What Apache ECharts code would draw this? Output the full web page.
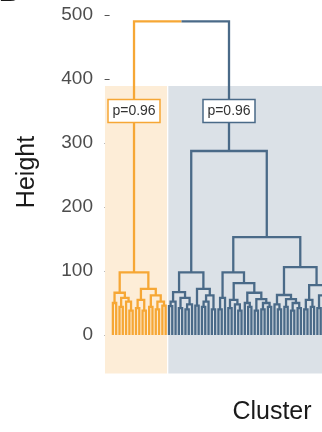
<!DOCTYPE html>
<html><head><meta charset="utf-8">
<script src="https://cdn.jsdelivr.net/npm/echarts@6/dist/echarts.min.js"></script>
<style>html,body{margin:0;padding:0;background:#fff}#c{width:322px;height:432px}</style>
</head><body><div id="c"></div><script>
// ---- data (hclust-style merge list: negative = leaf id, positive = earlier merge id) ----
const leafCount = 68;
const mergeLeft   = [-1,-3,-6,-5, 2, 1,-8,-10, 7,-12,-14,-16,11,10, 9, 6,
                     -18,17,-21,-23,20,19,18,-26,-28,25,-31,26,24,23,
                     -33,31,-36,-39,-38,33,-42,-41,-44,-46,-48,40,39,38,36,32,
                     -51,-50,-53,-55,-57,50,49,48,-59,-61,55,-63,-65,-67,59,58,57,54,46,30,16];
const mergeRight  = [-2,-4,-7, 3, 4, 5,-9,-11, 8,-13,-15,-17,12,13,14,15,
                     -19,-20,-22,-24,-25,21,22,-27,-29,-30,-32,27,28,29,
                     -34,-35,-37,-40,34,35,-43,37,-45,-47,-49,41,42,43,44,45,
                     -52,47,-54,-56,-58,51,52,53,-60,-62,56,-64,-66,-68,60,61,62,63,64,65,66];
const mergeHeight = [50,44,38,52,58,66,42,38,55,44,40,46,52,62,72,98,
                     45,52,42,40,48,58,67,46,44,52,40,62,72,98,
                     40,58,42,38,48,55,44,50,38,40,44,50,56,66,81,98,
                     40,48,44,38,42,50,56,62.5,40,44,55,42,40,46,54,62,78,106,153,287.5,490];
const clusterLabels = ['p=0.96', 'p=0.96'];
const clusterLabelHeight = 350;
const clusterXStart = [-1.4, 17.8];
const clusterXEnd = [17.4, 75];
const clusterBandLow = -60;
const clusterBandHigh = 389;
const yTickValues = [0, 100, 200, 300, 400, 500];

// ---- styles ----
const lineColors = ['#F6A735', '#4A6A88'];
const bandColors = ['#FDEDD7', '#DBE1E7'];
const FONT = '"Liberation Sans", Arial, Helvetica, sans-serif';

// ---- build tree geometry in data units ----
const nM = mergeLeft.length;
const nodeX = [];
const cX = c => c < 0 ? -c : nodeX[c - 1];
const cH = c => c < 0 ? 0 : mergeHeight[c - 1];
for (let i = 0; i < nM; i++) nodeX[i] = (cX(mergeLeft[i]) + cX(mergeRight[i])) / 2;
const rootIdx = nM - 1;
const nodeCluster = new Array(nM).fill(0);
function mark(c, k) { if (c > 0) { nodeCluster[c - 1] = k; mark(mergeLeft[c - 1], k); mark(mergeRight[c - 1], k); } }
mark(mergeLeft[rootIdx], 0); mark(mergeRight[rootIdx], 1);

const links = [];
for (let i = 0; i < nM; i++) {
  const L = mergeLeft[i], R = mergeRight[i], h = mergeHeight[i];
  const xa = cX(L), ha = cH(L), xb = cX(R), hb = cH(R);
  if (i === rootIdx) {
    const xm = (xa + xb) / 2;
    links.push({pts: [[xa, ha], [xa, h], [xm, h]], k: 0});
    links.push({pts: [[xb, hb], [xb, h], [xm, h]], k: 1});
  } else {
    links.push({pts: [[xa, ha], [xa, h], [xb, h], [xb, hb]], k: nodeCluster[i]});
  }
}
const clusterRootX = [cX(mergeLeft[rootIdx]), cX(mergeRight[rootIdx])];

const chart = echarts.init(document.getElementById('c'), null, {renderer: 'canvas'});
chart.setOption({
  animation: false,
  backgroundColor: '#fff',
  grid: {left: 103, width: 219, top: 2.2, height: 377.6},
  xAxis: {type: 'value', min: -2, max: 64.4, show: false, splitLine: {show: false}},
  yAxis: {
    type: 'value', min: -70, max: 520,
    axisLine: {show: false}, splitLine: {show: false},
    axisTick: {show: true, inside: false, length: 5, lineStyle: {color: '#555', width: 1}, customValues: yTickValues},
    axisLabel: {customValues: yTickValues, fontSize: 19, color: '#4d4d4d', margin: 10, fontFamily: FONT}
  },
  series: [
    {
      type: 'custom', z: 1, clip: true,
      data: clusterXStart.map((x, i) => [x, clusterXEnd[i]]),
      renderItem(params, api) {
        const a = api.coord([api.value(0), clusterBandHigh]);
        const b = api.coord([api.value(1), clusterBandLow]);
        return {type: 'rect', shape: {x: a[0], y: a[1], width: b[0] - a[0], height: b[1] - a[1]},
                style: {fill: bandColors[params.dataIndex]}};
      }
    },
    {
      type: 'custom', z: 2, clip: true,
      data: links.map(l => [l.pts[0][0], l.pts[0][1]]),
      renderItem(params, api) {
        const l = links[params.dataIndex];
        return {type: 'polyline', shape: {points: l.pts.map(p => api.coord(p))},
                style: {stroke: lineColors[l.k], lineWidth: 2.3, fill: null, lineJoin: 'miter'}};
      }
    },
    {
      type: 'custom', z: 3, clip: false,
      data: clusterRootX.map(x => [x, clusterLabelHeight]),
      renderItem(params, api) {
        const p = api.coord([api.value(0), api.value(1)]);
        const k = params.dataIndex;
        return {type: 'group', children: [
          {type: 'rect', shape: {x: Math.round(p[0]) - 26, y: Math.round(p[1]) - 11.5, width: 52, height: 23},
           style: {fill: '#fff', stroke: lineColors[k], lineWidth: 1.5}},
          {type: 'text', x: p[0], y: p[1] + 0.5,
           style: {text: clusterLabels[k], fill: '#333', font: '14px ' + FONT, align: 'center', verticalAlign: 'middle'}}
        ]};
      }
    }
  ],
  graphic: [
    {type: 'text', x: 27, y: 172, rotation: Math.PI / 2, style: {text: 'Height', fill: '#1a1a1a', font: '25px ' + FONT, align: 'center', verticalAlign: 'middle'}},
    {type: 'text', x: 272, y: 412, style: {text: 'Cluster', fill: '#1a1a1a', font: '25px ' + FONT, align: 'center', verticalAlign: 'middle'}},
    {type: 'text', x: -1, y: -7, style: {text: 'B', fill: '#1a1a1a', font: 'bold 28px ' + FONT, align: 'left', verticalAlign: 'middle'}}
  ]
});
</script></body></html>
